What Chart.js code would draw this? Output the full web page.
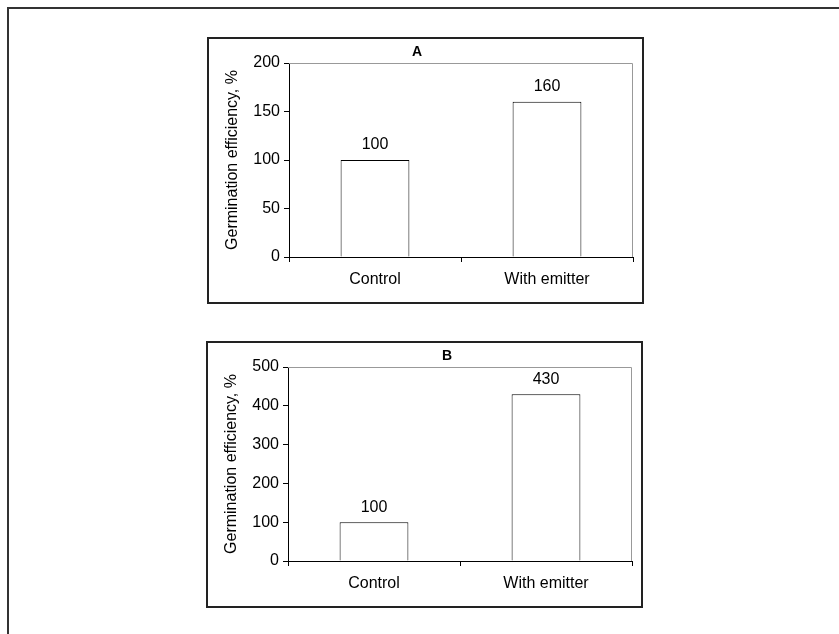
<!DOCTYPE html>
<html>
<head>
<meta charset="utf-8">
<script src="https://cdn.jsdelivr.net/npm/chart.js@4.4.1/dist/chart.umd.min.js"></script>
<style>
  html, body { margin: 0; padding: 0; background: #fff; overflow: hidden; }
  body { width: 839px; height: 634px; position: relative; }
  .moldura { position: absolute; left: 7px; top: 7px; width: 900px; height: 700px;
             border-top: 2px solid #333; border-left: 2px solid #333; }
  .painel { position: absolute; width: 437px; height: 267px; }
  .painel canvas { position: absolute; left: 0; top: 0; }
  .borda { position: absolute; left: 0; top: 0; width: 437px; height: 267px;
           border: 2px solid #222; box-sizing: border-box; pointer-events: none; }
</style>
</head>
<body>
<div class="moldura"></div>
<div class="painel" style="left:207px; top:37px;">
  <canvas id="graficoA" width="437" height="267"></canvas>
  <div class="borda"></div>
</div>
<div class="painel" style="left:206px; top:341px;">
  <canvas id="graficoB" width="437" height="267"></canvas>
  <div class="borda"></div>
</div>
<script>
// Dados dos dois painéis
const categorias = ['Control', 'With emitter'];
const valoresA = [100, 160];
const valoresB = [100, 430];
const ticksA = [0, 50, 100, 150, 200];
const ticksB = [0, 100, 200, 300, 400, 500];
const tituloEixoY = 'Germination efficiency, %';

const fonte = "'Liberation Sans', Arial, sans-serif";

// Desenha o rótulo do painel (A / B)
const pluginTitulo = {
  id: 'tituloPainel',
  afterDraw(chart, args, opts) {
    const ctx = chart.ctx;
    ctx.save();
    ctx.font = 'bold 14px ' + fonte;
    ctx.fillStyle = '#000';
    ctx.textAlign = 'center';
    ctx.textBaseline = 'middle';
    ctx.fillText(opts.text, opts.x, opts.y);
    ctx.restore();
  }
};

// Valores em cima das barras
const pluginValores = {
  id: 'valoresBarras',
  afterDatasetsDraw(chart) {
    const ctx = chart.ctx;
    const meta = chart.getDatasetMeta(0);
    const dados = chart.data.datasets[0].data;
    ctx.save();
    ctx.font = '16px ' + fonte;
    ctx.fillStyle = '#000';
    ctx.textAlign = 'center';
    ctx.textBaseline = 'middle';
    meta.data.forEach((barra, i) => {
      ctx.fillText(String(dados[i]), barra.x, barra.y - 15);
    });
    ctx.restore();
  }
};

// Borda cinza do topo e da direita da área do gráfico
const pluginMoldura = {
  id: 'molduraArea',
  beforeDatasetsDraw(chart) {
    const { ctx, chartArea: a } = chart;
    ctx.save();
    ctx.strokeStyle = '#999';
    ctx.lineWidth = 1;
    ctx.beginPath();
    ctx.moveTo(a.left, a.top + 0.5);
    ctx.lineTo(a.right - 0.5, a.top + 0.5);
    ctx.lineTo(a.right - 0.5, a.bottom);
    ctx.stroke();
    ctx.restore();
  }
};

function criarGrafico(canvasId, valores, ticks, letra, tituloX, topo) {
  const passo = ticks[1] - ticks[0];
  return new Chart(document.getElementById(canvasId), {
    type: 'bar',
    data: {
      labels: categorias,
      datasets: [{
        data: valores,
        backgroundColor: '#fff',
        borderColor: '#000',
        borderWidth: 1,
        categoryPercentage: 1,
        barPercentage: 0.4
      }]
    },
    options: {
      responsive: false,
      animation: false,
      devicePixelRatio: 1,
      layout: { padding: { top: topo, right: 11, bottom: 0, left: 0 } },
      plugins: {
        legend: { display: false },
        tooltip: { enabled: false },
        tituloPainel: { text: letra, x: tituloX, y: 15 }
      },
      scales: {
        x: {
          grid: { drawOnChartArea: false, color: '#000', tickLength: 5, offset: true },
          border: { color: '#000' },
          ticks: { color: '#000', font: { family: fonte, size: 16 }, padding: 8 },
          afterFit(scale) { scale.height = 47; }
        },
        y: {
          min: ticks[0],
          max: ticks[ticks.length - 1],
          ticks: { stepSize: passo, color: '#000', font: { family: fonte, size: 16 }, padding: 4 },
          grid: { drawOnChartArea: false, color: '#000', tickLength: 5 },
          border: { color: '#000' },
          title: {
            display: true,
            text: tituloEixoY,
            color: '#000',
            font: { family: fonte, size: 16 },
            padding: { top: 16, bottom: 0 }
          },
          afterFit(scale) { scale.width = 82; }
        }
      }
    },
    plugins: [pluginTitulo, pluginValores, pluginMoldura]
  });
}

criarGrafico('graficoA', valoresA, ticksA, 'A', 210, 26);
criarGrafico('graficoB', valoresB, ticksB, 'B', 241, 26);
</script>
</body>
</html>
